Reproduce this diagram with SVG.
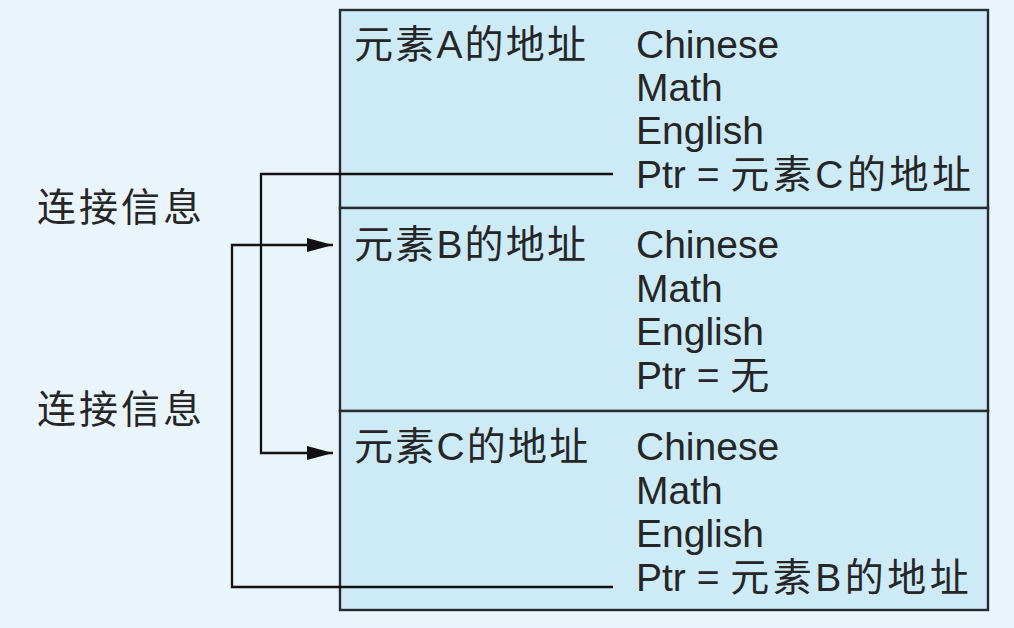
<svg xmlns="http://www.w3.org/2000/svg" width="1014" height="628" viewBox="0 0 1014 628">
<defs>
<style>
.bg{fill:#eaf5fb}
.box{fill:#cdebf7;stroke:#262b30;stroke-width:2.4}
.t{font-family:"Liberation Sans","Noto Sans CJK SC",sans-serif;font-size:39px;fill:#262626}
.k{letter-spacing:2.2px}
.p{letter-spacing:3.5px}
.l{letter-spacing:3px}
.c{fill:none;stroke:#111;stroke-width:2.3}
</style>
<marker id="ah" viewBox="0 0 26 14" refX="26" refY="7" markerWidth="26" markerHeight="14" markerUnits="userSpaceOnUse" orient="auto">
<path d="M0,0 L26,7 L0,14 Z" fill="#111"/>
</marker>
</defs>
<rect class="bg" x="0" y="0" width="1014" height="628"/>
<g id="nodeA">
<rect class="box" x="340" y="10" width="648" height="198"/>
<text class="t k" x="354" y="58">元素A的地址</text>
<text class="t" x="636" y="58">Chinese</text>
<text class="t" x="636" y="101">Math</text>
<text class="t" x="636" y="144">English</text>
<text class="t" x="636" y="188">Ptr = <tspan class="p">元素C的地址</tspan></text>
</g>
<g id="nodeB">
<rect class="box" x="340" y="208" width="648" height="203"/>
<text class="t k" x="354" y="258">元素B的地址</text>
<text class="t" x="636" y="258">Chinese</text>
<text class="t" x="636" y="302">Math</text>
<text class="t" x="636" y="345">English</text>
<text class="t" x="636" y="389">Ptr = <tspan class="p">无</tspan></text>
</g>
<g id="nodeC">
<rect class="box" x="340" y="411" width="648" height="199"/>
<text class="t k" x="354" y="460">元素C的地址</text>
<text class="t" x="636" y="460">Chinese</text>
<text class="t" x="636" y="504">Math</text>
<text class="t" x="636" y="547">English</text>
<text class="t" x="636" y="591">Ptr = <tspan class="p">元素B的地址</tspan></text>
</g>
<g id="labels">
<text class="t l" x="37" y="221">连接信息</text>
<text class="t l" x="37" y="423">连接信息</text>
</g>
<g id="connectors">
<path class="c" d="M613,174 H261 V453 H333" marker-end="url(#ah)"/>
<path class="c" d="M613,587 H232 V245 H333" marker-end="url(#ah)"/>
</g>
</svg>
